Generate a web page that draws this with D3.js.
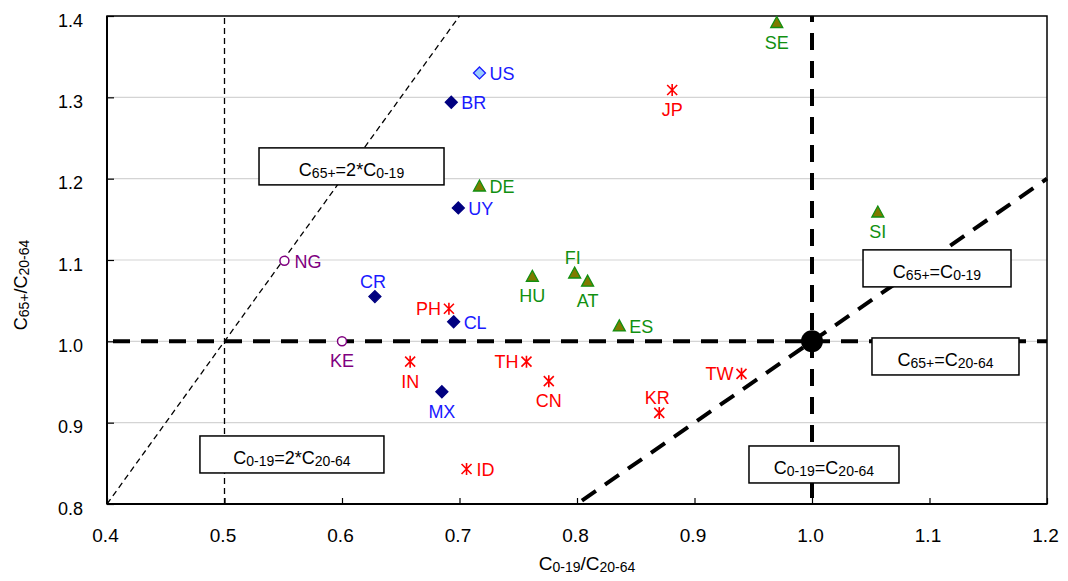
<!DOCTYPE html>
<html><head><meta charset="utf-8">
<script src="https://cdn.jsdelivr.net/npm/d3@7"></script>
<style>body{margin:0;background:#fff}svg{font-family:"Liberation Sans",Arial,sans-serif;display:block}</style>
</head><body><svg id="c" width="1068" height="581"></svg>
<script>
// ---- data ----
const countries = ["SE","JP","US","BR","DE","UY","SI","NG","CR","HU","FI","AT","PH","CL","ES","KE","IN","TH","CN","MX","TW","KR","ID"];
const youthRatio = [0.970,0.881,0.717,0.693,0.717,0.699,1.056,0.551,0.628,0.762,0.798,0.809,0.691,0.695,0.836,0.600,0.658,0.757,0.776,0.685,0.940,0.870,0.706];
const oldRatio   = [1.392,1.309,1.330,1.294,1.191,1.164,1.159,1.099,1.055,1.080,1.084,1.074,1.040,1.024,1.019,1.000,0.975,0.975,0.951,0.938,0.960,0.912,0.843];
const groups     = ["Europe","Asia","US","LatAm","Europe","LatAm","Europe","Africa","LatAm","Europe","Europe","Europe","Asia","LatAm","Europe","Africa","Asia","Asia","Asia","LatAm","Asia","Asia","Asia"];
const xTicks = [0.4,0.5,0.6,0.7,0.8,0.9,1.0,1.1,1.2];
const yTicks = [0.8,0.9,1.0,1.1,1.2,1.3,1.4];
const thinLines  = [[[0.5,0.8],[0.5,1.4]], [[0.4,0.8],[0.7,1.4]]];
const thickLines = [[[0.4,1.0],[1.2,1.0]], [[1.0,0.8],[1.0,1.4]], [[0.8,0.8],[1.2,1.2]]];
const boxLabels = [
  [["C",0],["65+",1],["=2*C",0],["0-19",1]],
  [["C",0],["65+",1],["=C",0],["0-19",1]],
  [["C",0],["65+",1],["=C",0],["20-64",1]],
  [["C",0],["0-19",1],["=2*C",0],["20-64",1]],
  [["C",0],["0-19",1],["=C",0],["20-64",1]]
];
const boxCenterX = [0.6081,1.1064,1.1136,0.5574,1.0102];
const boxCenterY = [1.2151,1.0897,0.9814,0.8609,0.8486];

// ---- styling / layout ----
const labelPlace = {SE:"below",JP:"below",US:"right",BR:"right",DE:"right",UY:"right",SI:"below",NG:"right",
  CR:"above",HU:"below",FI:"above",AT:"below",PH:"left",CL:"right",ES:"right",KE:"below",IN:"below",
  TH:"left",CN:"below",MX:"below",TW:"left",KR:"above",ID:"right"};
const boxW = [185,148,147,184,150];
const style = {
  LatAm:{shape:"diamond",fill:"#000080",stroke:"#000080",text:"#1a1aff"},
  US:{shape:"diamond",fill:"#99ccff",stroke:"#1a1aff",text:"#1a1aff"},
  Europe:{shape:"triangle",fill:"#7f7a00",stroke:"#119011",text:"#119011"},
  Asia:{shape:"star",fill:"none",stroke:"#ff0000",text:"#ff0000"},
  Africa:{shape:"circle",fill:"#ffffff",stroke:"#800080",text:"#800080"}
};

const svg = d3.select("#c");
const L=107,R=1047,T=16,B=504;
const x = d3.scaleLinear().domain([0.4,1.2]).range([L,R]);
const y = d3.scaleLinear().domain([0.8,1.4]).range([B,T]);

// gridlines
svg.append("g").selectAll("line").data(yTicks.slice(1,-1)).join("line")
  .attr("x1",L).attr("x2",R).attr("y1",d=>y(d)).attr("y2",d=>y(d))
  .attr("stroke","#d4d4d4").attr("stroke-width",1.2);

const line = d3.line().x(d=>x(d[0])).y(d=>y(d[1]));
svg.append("g").selectAll("path").data(thinLines).join("path")
  .attr("d",line).attr("fill","none").attr("stroke","#000").attr("stroke-width",1.3).attr("stroke-dasharray","6,4");
svg.append("g").selectAll("path").data(thickLines).join("path")
  .attr("d",line).attr("fill","none").attr("stroke","#000").attr("stroke-width",4).attr("stroke-dasharray","17,11")
  .attr("stroke-dashoffset",-6);
svg.append("circle").attr("cx",x(1)).attr("cy",y(1)).attr("r",11).attr("fill","#000");

// plot frame
svg.append("rect").attr("x",L).attr("y",T).attr("width",R-L).attr("height",B-T)
  .attr("fill","none").attr("stroke","#000").attr("stroke-width",1.5);
svg.append("line").attr("x1",L).attr("x2",R).attr("y1",B).attr("y2",B).attr("stroke","#000").attr("stroke-width",2.2);
svg.append("line").attr("x1",L).attr("x2",L).attr("y1",T).attr("y2",B).attr("stroke","#000").attr("stroke-width",2);

// axes
const xa = svg.append("g").attr("transform",`translate(0,${B})`)
  .call(d3.axisBottom(x).tickValues(xTicks).tickFormat(d3.format(".1f")).tickSize(-6).tickPadding(25));
xa.select(".domain").remove();
xa.selectAll("line").attr("stroke","#000").attr("stroke-width",1.2);
xa.selectAll("text").attr("font-size",19).attr("fill","#000").attr("font-family","Liberation Sans, Arial, sans-serif").attr("dx",-2);
const ya = svg.append("g").attr("transform",`translate(${L},0)`)
  .call(d3.axisLeft(y).tickValues(yTicks).tickFormat(d3.format(".1f")).tickSize(-7).tickPadding(24));
ya.select(".domain").remove();
ya.selectAll("line").attr("stroke","#000").attr("stroke-width",1.2);
ya.selectAll("text").attr("font-size",18).attr("fill","#000").attr("font-family","Liberation Sans, Arial, sans-serif").attr("dy","10px");

// rich text helper
function rich(sel, segs, big, small){
  let shifted=false;
  segs.forEach(([t,sub])=>{
    const ts = sel.append("tspan").text(t).attr("font-size",sub?small:big);
    if(sub && !shifted){ts.attr("dy",2);shifted=true;}
    else if(!sub && shifted){ts.attr("dy",-2);shifted=false;}
  });
}

// annotation boxes
boxLabels.forEach((segs,i)=>{
  const cx=x(boxCenterX[i]), cy=y(boxCenterY[i]), w=boxW[i], h=37;
  svg.append("rect").attr("x",cx-w/2).attr("y",cy-h/2).attr("width",w).attr("height",h)
    .attr("fill","#fff").attr("stroke","#000").attr("stroke-width",1.5);
  const t = svg.append("text").attr("x",cx).attr("y",cy-h/2+28.5).attr("text-anchor","middle").attr("fill","#000");
  rich(t,segs,18,14);
});

// axis titles
rich(svg.append("text").attr("x",587).attr("y",570).attr("text-anchor","middle").attr("fill","#000"),
  [["C",0],["0-19",1],["/C",0],["20-64",1]],19,14);
rich(svg.append("text").attr("transform","translate(27,285) rotate(-90)").attr("text-anchor","middle").attr("fill","#000"),
  [["C",0],["65+",1],["/C",0],["20-64",1]],18,14);

// markers
const pts = countries.map((c,i)=>({c,vx:youthRatio[i],vy:oldRatio[i],g:groups[i]}));
const shapePath = {
  diamond:"M0,-6L6,0L0,6L-6,0Z",
  triangle:"M0,-6L6,5L-6,5Z",
  star:"M-5,-5L5,5M-5,5L5,-5M0,-6L0,6"
};
const mk = svg.append("g").selectAll("g").data(pts).join("g")
  .attr("transform",d=>`translate(${x(d.vx)},${y(d.vy)})`);
mk.each(function(d){
  const s=style[d.g], g=d3.select(this);
  if(s.shape==="circle") g.append("circle").attr("r",4.5).attr("fill",s.fill).attr("stroke",s.stroke).attr("stroke-width",1.5);
  else g.append("path").attr("d",shapePath[s.shape]).attr("fill",s.fill).attr("stroke",s.stroke)
        .attr("stroke-width",s.shape==="star"?1.6:1.3);
});
const off = {right:[10,7,"start"],left:[-8,6,"end"],below:[0,26,"middle"],above:[-2,-9,"middle"]};
svg.append("g").selectAll("text").data(pts).join("text")
  .attr("x",d=>x(d.vx)+off[labelPlace[d.c]][0])
  .attr("y",d=>y(d.vy)+off[labelPlace[d.c]][1])
  .attr("text-anchor",d=>off[labelPlace[d.c]][2])
  .attr("font-size",18).attr("fill",d=>style[d.g].text).text(d=>d.c);
</script></body></html>
